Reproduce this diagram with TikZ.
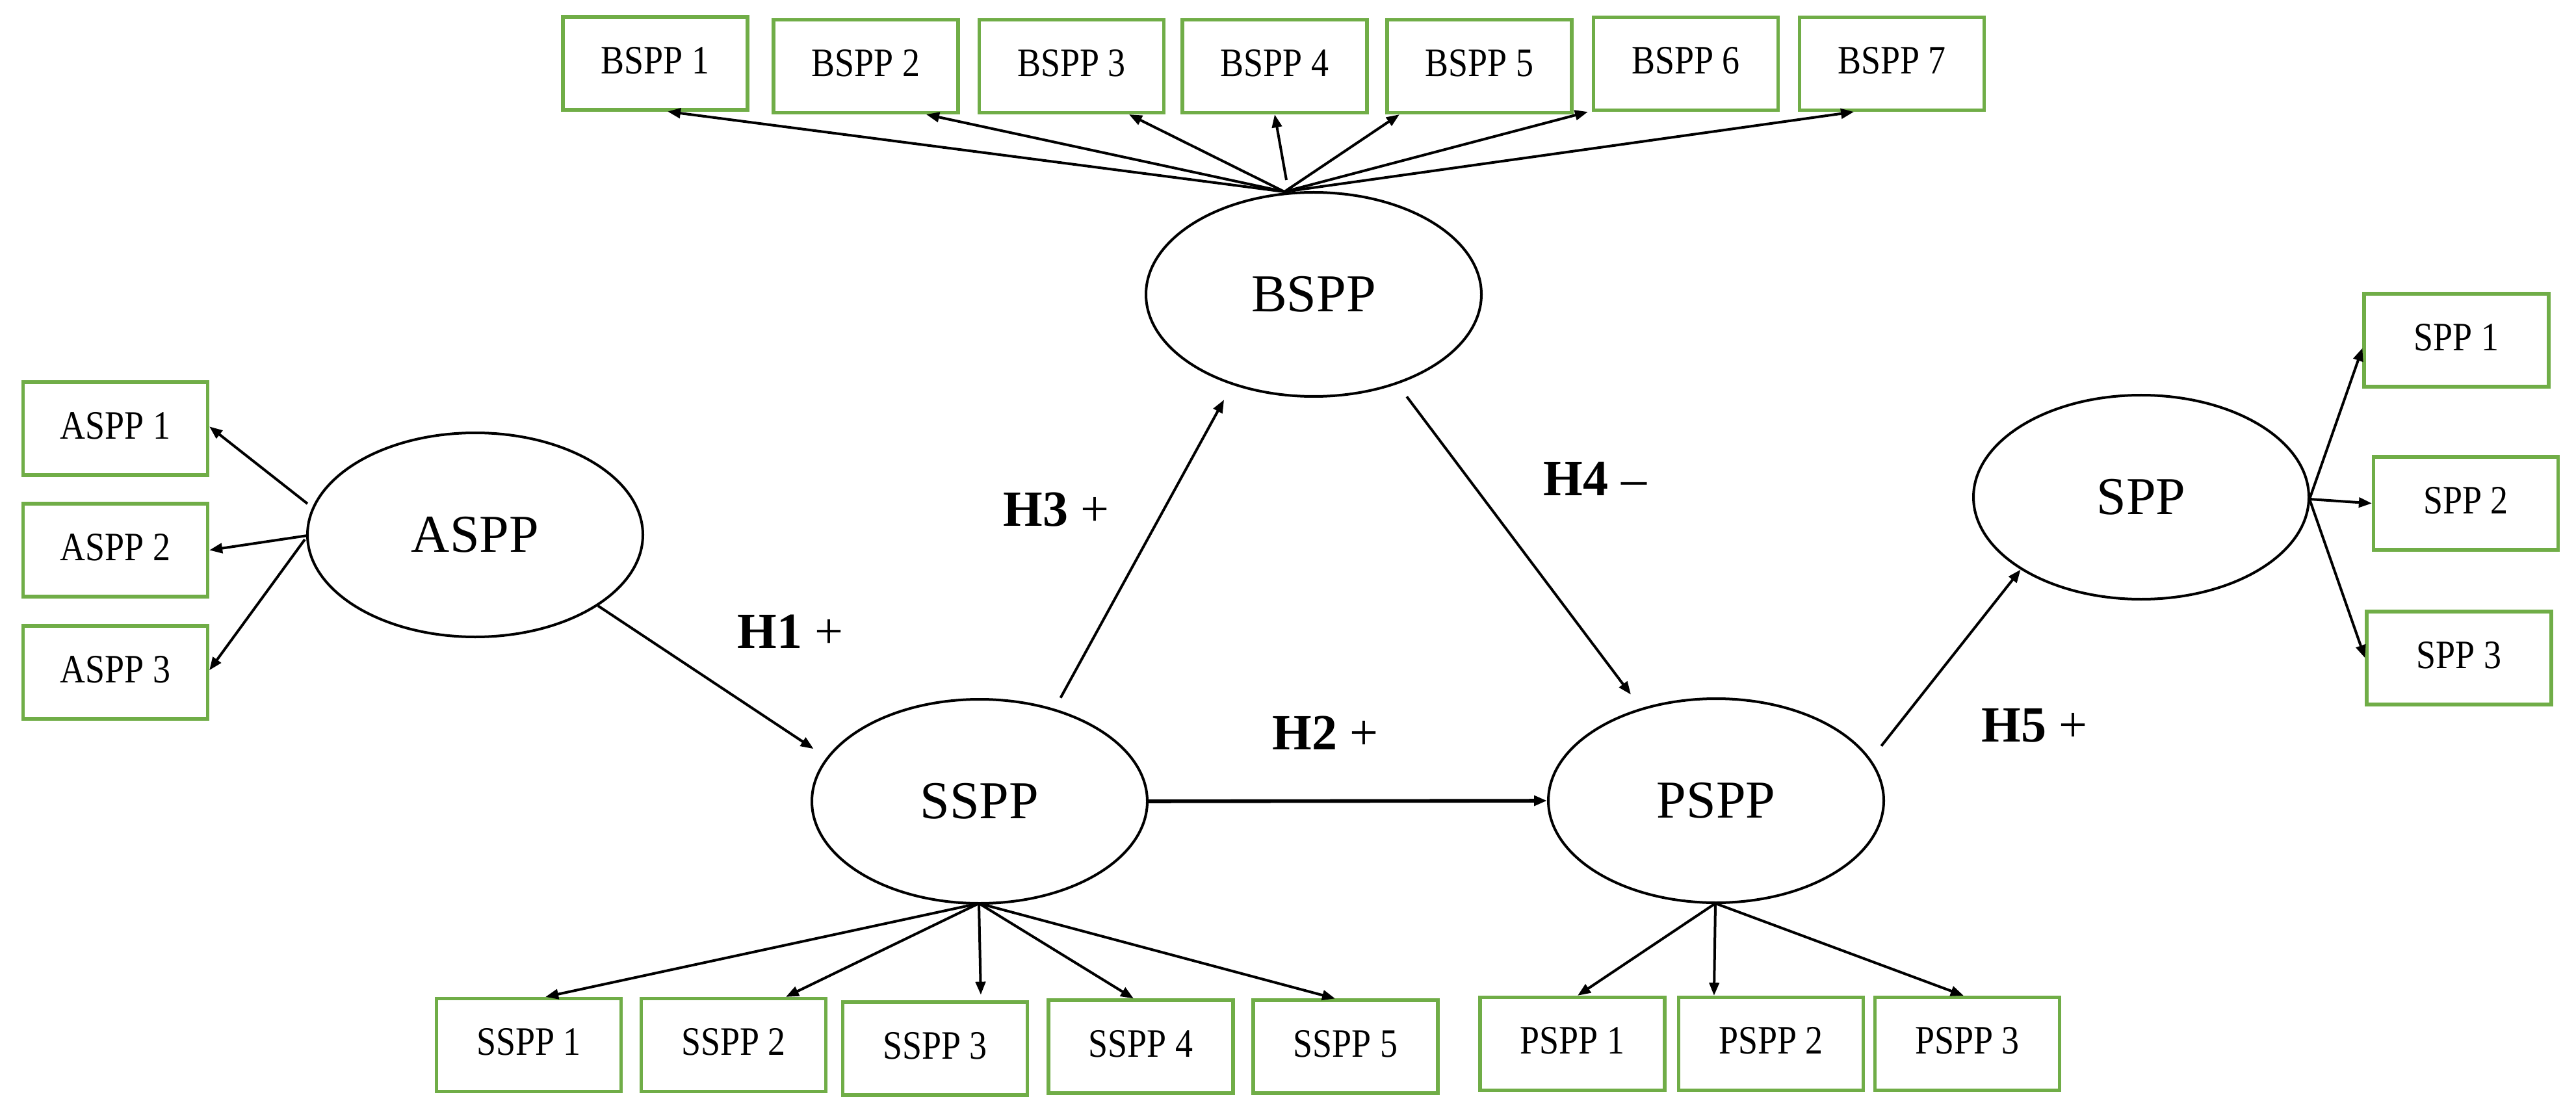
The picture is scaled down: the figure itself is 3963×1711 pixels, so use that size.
\documentclass[tikz,border=0pt]{standalone}
\usepackage{fontspec}
\setmainfont{Liberation Serif}
\newfontfamily\boxfont[FakeStretch=0.87]{Liberation Serif}
\usetikzlibrary{arrows.meta,shapes.geometric}
\definecolor{indgreen}{RGB}{112,173,71}
\begin{document}
\begin{tikzpicture}[x=0.25pt,y=-0.25pt,
  ind/.style={draw=indgreen,line width=1.3pt,minimum width=71pt,minimum height=35.75pt,
    inner sep=0pt,font=\boxfont\fontsize{15.5}{18}\selectfont,text depth=2.5pt},
  lat/.style={draw,ellipse,line width=1pt,minimum width=129pt,minimum height=78.5pt,
    inner sep=0pt,font=\fontsize{20.5}{24}\selectfont},
  arr/.style={line width=1pt,-{Triangle[length=5pt,width=3.8pt]}},
  hyp/.style={font=\fontsize{19.5}{23}\selectfont,inner sep=0pt}]
\useasboundingbox (0,0) rectangle (3963,1711);

% latent constructs
\node[lat] (aspp) at (731,823) {ASPP};
\node[lat] (bspp) at (2021,453) {BSPP};
\node[lat] (sspp) at (1507,1233) {SSPP};
\node[lat] (pspp) at (2640,1232) {PSPP};
\node[lat] (spp) at (3294,765) {SPP};

% indicators
\node[ind] (b1) at (1008,97.5) {BSPP 1};
\node[ind] (b2) at (1332,102) {BSPP 2};
\node[ind] (b3) at (1648.5,102) {BSPP 3};
\node[ind] (b4) at (1961,102) {BSPP 4};
\node[ind] (b5) at (2276,102) {BSPP 5};
\node[ind] (b6) at (2593.5,98) {BSPP 6};
\node[ind] (b7) at (2910.5,98) {BSPP 7};

\node[ind] (a1) at (177.5,659.5) {ASPP 1};
\node[ind] (a2) at (177.5,846.5) {ASPP 2};
\node[ind] (a3) at (177.5,1034.5) {ASPP 3};

\node[ind] (s1) at (3779,523.5) {SPP 1};
\node[ind] (s2) at (3793.5,774.5) {SPP 2};
\node[ind] (s3) at (3783,1012.5) {SPP 3};

\node[ind] (ss1) at (813.5,1608) {SSPP 1};
\node[ind] (ss2) at (1128.5,1608) {SSPP 2};
\node[ind] (ss3) at (1438.5,1613.5) {SSPP 3};
\node[ind] (ss4) at (1755,1610.5) {SSPP 4};
\node[ind] (ss5) at (2070,1610.5) {SSPP 5};

\node[ind] (p1) at (2419,1606) {PSPP 1};
\node[ind] (p2) at (2724.5,1606) {PSPP 2};
\node[ind] (p3) at (3026.5,1606) {PSPP 3};

% hubs
\coordinate (bh) at (1976,295);
\coordinate (bh4) at (1979,277);
\coordinate (ah1) at (473,775);
\coordinate (ah2) at (473,824);
\coordinate (ah3) at (469,830);
\coordinate (sh) at (3553,768);
\coordinate (ssh) at (1506,1390);
\coordinate (ph) at (2639,1390);

% BSPP indicators
\draw[arr] (bh) -- ([xshift=4.75pt]b1.south);
\draw[arr] (bh) -- ([xshift=23.25pt]b2.south);
\draw[arr] (bh) -- ([xshift=22.1pt]b3.south);
\draw[arr] (bh4) -- (b4.south);
\draw[arr] (bh) -- ([xshift=-30.75pt]b5.south);
\draw[arr] (bh) -- ([xshift=-1.5pt]b6.south west);
\draw[arr] (bh) -- ([xshift=-14.6pt]b7.south);

% ASPP indicators
\draw[arr] (ah1) -- ([yshift=0.8pt]a1.east);
\draw[arr] (ah2) -- (a2.east);
\draw[arr] (ah3) -- ([yshift=0.8pt]a3.east);

% SPP indicators
\draw[arr] (sh) -- ([yshift=-3pt]s1.west);
\draw[arr] (sh) -- (s2.west);
\draw[arr] (sh) -- (s3.west);

% SSPP indicators
\draw[arr] (ssh) -- ([xshift=6.4pt]ss1.north);
\draw[arr] (ssh) -- ([xshift=20.1pt]ss2.north);
\draw[arr] (ssh) -- ([xshift=17.6pt,yshift=2.2pt]ss3.north);
\draw[arr] (ssh) -- ([xshift=-2.75pt]ss4.north);
\draw[arr] (ssh) -- ([xshift=-4pt]ss5.north);

% PSPP indicators
\draw[arr] (ph) -- ([xshift=2pt]p1.north);
\draw[arr] (ph) -- ([xshift=-21.9pt]p2.north);
\draw[arr] (ph) -- ([xshift=-1.4pt]p3.north);

% structural paths
\draw[arr,shorten >=6pt] (aspp.-30.6) -- (sspp.164.3);
\draw[arr,line width=1.4pt] (sspp.east) -- (pspp.west);
\draw[arr,shorten <=4.8pt,shorten >=6.5pt] (sspp.51.6) -- (bspp.228.8);
\draw[arr,shorten <=6pt,shorten >=6.5pt] (bspp.-47.5) -- (pspp.129.9);
\draw[arr,shorten <=6.5pt] (pspp.15.5) -- (spp.211.7);

% hypothesis labels
\node[hyp] (h1) at (1216,972) {\textbf{H1} +};
\node[hyp] (h2) at (2039,1128) {\textbf{H2} +};
\node[hyp] (h3) at (1625,784) {\textbf{H3} +};
\node[hyp] (h4) at (2454,737) {\textbf{H4} –};
\node[hyp] (h5) at (3130,1116) {\textbf{H5} +};
\end{tikzpicture}
\end{document}
